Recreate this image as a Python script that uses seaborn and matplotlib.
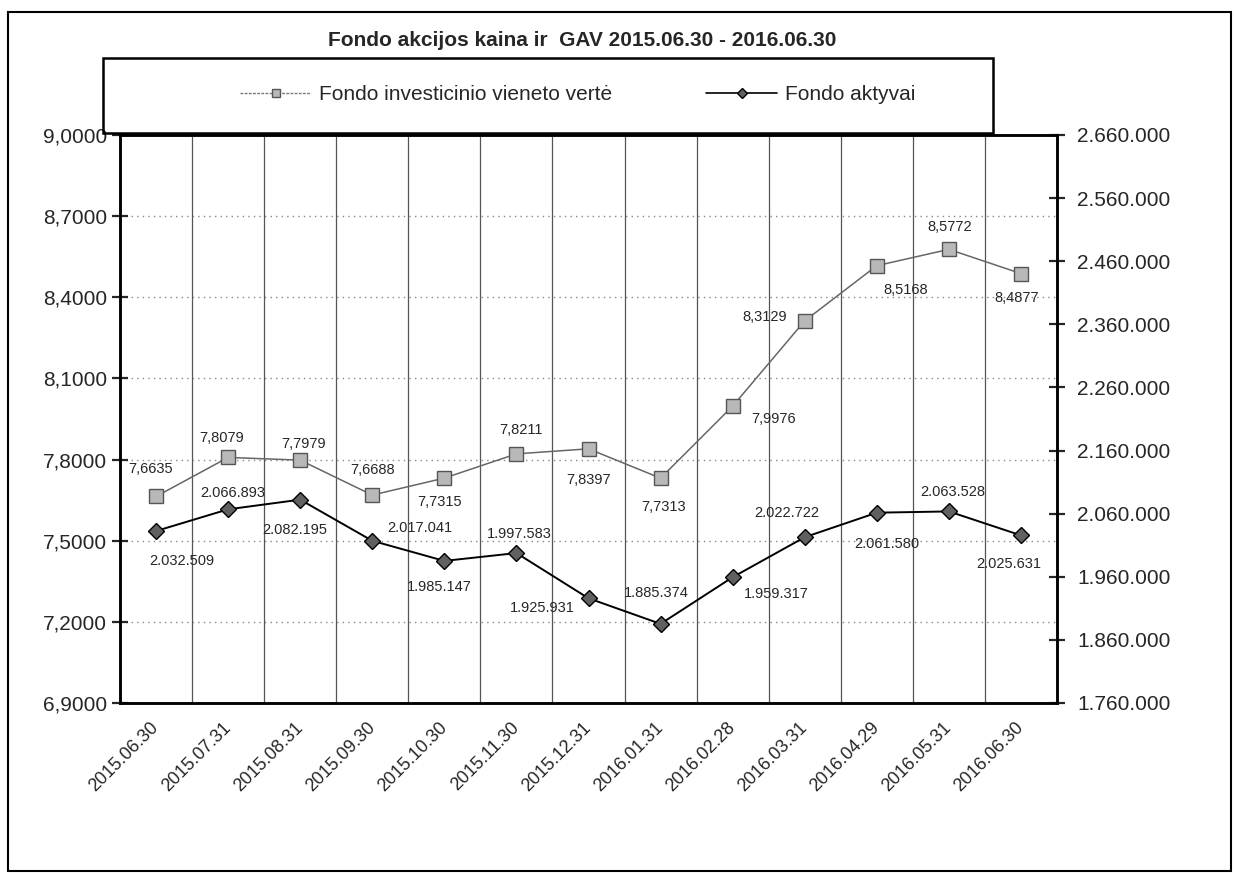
import matplotlib
matplotlib.use("Agg")
import matplotlib.pyplot as plt
from matplotlib.lines import Line2D
from matplotlib.patches import Rectangle
from matplotlib.ticker import FixedLocator, FuncFormatter
import pandas as pd
import seaborn as sns

# --------------------------------------------------------------------------
# Data
# --------------------------------------------------------------------------

dates = ["2015.06.30", "2015.07.31", "2015.08.31", "2015.09.30", "2015.10.30",
         "2015.11.30", "2015.12.31", "2016.01.31", "2016.02.28", "2016.03.31",
         "2016.04.29", "2016.05.31", "2016.06.30"]

nav_values = [7.6635, 7.8079, 7.7979, 7.6688, 7.7315, 7.8211, 7.8397,
              7.7313, 7.9976, 8.3129, 8.5168, 8.5772, 8.4877]

asset_values = [2032509, 2066893, 2082195, 2017041, 1985147, 1997583, 1925931,
                1885374, 1959317, 2022722, 2061580, 2063528, 2025631]

nav_label = "Fondo investicinio vieneto vertė"
asset_label = "Fondo aktyvai"
title = "Fondo akcijos kaina ir  GAV 2015.06.30 - 2016.06.30"

left_ticks = [6.9, 7.2, 7.5, 7.8, 8.1, 8.4, 8.7, 9.0]
right_ticks = [1760000, 1860000, 1960000, 2060000, 2160000, 2260000,
               2360000, 2460000, 2560000, 2660000]

# label offsets in pixels (dx, dy with up positive) - placement only
nav_offsets = [(-5, 27), (-6, 19), (3, 16), (0, 25), (-5, -24), (5, 24), (0, -31),
               (3, -29), (41, -13), (-40, 4), (29, -24), (1, 22), (-4, -24)]
asset_offsets = [(26, -30), (5, 16), (-5, -30), (48, 13), (-5, -26), (3, 19), (-46, -10),
                 (-4, 31), (44, -17), (-18, 24), (10, -31), (4, 19), (-12, -29)]

W, H = 1236, 874

sns.set_style("white")
plt.rcParams["font.family"] = ["Liberation Sans", "DejaVu Sans"]


def comma_dec(v, _=None):
    return f"{v:.4f}".replace(".", ",")


def dot_thousands(v, _=None):
    return f"{int(round(v)):,}".replace(",", ".")


df = pd.DataFrame({"pos": range(len(dates)), "date": dates,
                   "nav": nav_values, "assets": asset_values})

fig = plt.figure(figsize=(W / 100, H / 100), dpi=100)
ax = fig.add_axes([120 / W, 1 - 703 / H, 937 / W, 568 / H])
ax2 = ax.twinx()

sns.lineplot(data=df, x="pos", y="nav", ax=ax, color="#666666", linewidth=1.1,
             marker="s", markersize=10, markerfacecolor="#b8b8b8",
             markeredgecolor="#555555", markeredgewidth=1.0, zorder=5)
sns.lineplot(data=df, x="pos", y="assets", ax=ax2, color="black", linewidth=1.4,
             marker="D", markersize=8, markerfacecolor="#606060",
             markeredgecolor="black", markeredgewidth=1.0, zorder=5)

ax.set_xlim(-0.5, len(dates) - 0.5)
ax.set_ylim(left_ticks[0], left_ticks[-1])
ax2.set_ylim(right_ticks[0], right_ticks[-1])
ax.set_xlabel("")
ax.set_ylabel("")
ax2.set_ylabel("")

ax.yaxis.set_major_locator(FixedLocator(left_ticks))
ax.yaxis.set_major_formatter(FuncFormatter(comma_dec))
ax2.yaxis.set_major_locator(FixedLocator(right_ticks))
ax2.yaxis.set_major_formatter(FuncFormatter(dot_thousands))

ax.set_xticks(range(len(dates)))
ax.set_xticklabels(dates, rotation=45, ha="right", va="center",
                   rotation_mode="anchor", fontsize=13)
ax.set_xticks([i - 0.5 for i in range(len(dates) + 1)], minor=True)

ax.tick_params(axis="x", which="major", length=0, pad=16)
ax.tick_params(axis="x", which="minor", direction="inout", length=9, width=1.3)
ax.tick_params(axis="y", direction="inout", length=11, width=1.6, labelsize=15, pad=4)
ax2.tick_params(axis="y", direction="inout", length=11, width=1.6, labelsize=15, pad=9)

ax.grid(axis="y", which="major", color="#888888", linestyle=(0, (1, 3)), linewidth=1.0)
ax.grid(axis="x", which="minor", color="#555555", linestyle="-", linewidth=0.9)
ax.grid(axis="x", which="major", visible=False)

for a in (ax, ax2):
    for side, sp in a.spines.items():
        sp.set_color("black")
        sp.set_linewidth(1.8)
ax2.patch.set_visible(False)

for i, v in enumerate(nav_values):
    dx, dy = nav_offsets[i]
    ax.annotate(comma_dec(v), (i, v), xytext=(dx, dy), textcoords="offset pixels",
                ha="center", va="center", fontsize=10.5, zorder=6)
for i, v in enumerate(asset_values):
    dx, dy = asset_offsets[i]
    ax2.annotate(dot_thousands(v), (i, v), xytext=(dx, dy), textcoords="offset pixels",
                 ha="center", va="center", fontsize=10.5, zorder=6)

# legend box sitting on top of the plot area
fig.patches.append(Rectangle((103 / W, 1 - 133 / H), 890 / W, 75 / H,
                             transform=fig.transFigure, fill=False,
                             edgecolor="black", linewidth=1.8))
handles = [
    Line2D([], [], color="#777777", linewidth=1.0, linestyle=(0, (2, 1)), marker="s",
           markersize=6, markerfacecolor="#b8b8b8", markeredgecolor="#555555"),
    Line2D([], [], color="black", linewidth=1.2, marker="D", markersize=5,
           markerfacecolor="#606060", markeredgecolor="black"),
]
fig.legend(handles, [nav_label, asset_label], loc="center",
           bbox_to_anchor=(578 / W, 1 - 95 / H), ncol=2, frameon=False,
           fontsize=15, handlelength=3.4, columnspacing=4.5, handletextpad=0.4)

fig.text(582 / W, 1 - 40 / H, title, ha="center", va="center",
         fontsize=15, fontweight="bold")

# outer frame around the whole chart
fig.patches.append(Rectangle((8 / W, 3 / H), 1223 / W, 859 / H,
                             transform=fig.transFigure, fill=False,
                             edgecolor="black", linewidth=1.5))

fig.savefig("out.png", dpi=100, facecolor="white")
